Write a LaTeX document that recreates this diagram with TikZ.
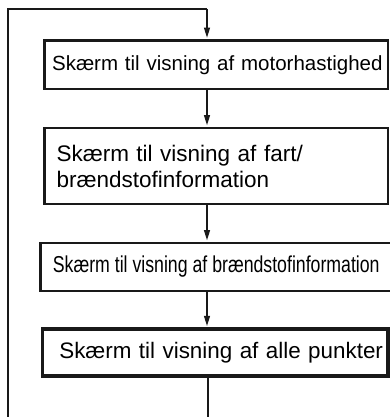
\documentclass[tikz,border=0pt]{standalone}
\usepackage{fontspec}
\setmainfont{Liberation Sans}
\newfontfamily\narrowsans[FakeStretch=0.77]{Liberation Sans}
\usetikzlibrary{arrows.meta, positioning, calc}

\begin{document}
\begin{tikzpicture}[
    x=1pt, y=-1pt,
    scr/.style={draw=black!90, line width=2.9pt, minimum width=343.5pt, inner xsep=12pt, inner ysep=0pt},
    arr/.style={-{Triangle[length=10pt,width=6pt]}, line width=1.1pt, black!90, shorten >=1.4pt},
    loop/.style={line width=1.8pt, black!90}
]
\useasboundingbox (0,0) rectangle (390,417);

\node[scr, minimum height=48.5pt, inner xsep=5.5pt, text width=332.5pt, align=right, font=\fontsize{20.5}{24}\selectfont] (m1) at (216.25,64.75) {Skærm til visning af motorhastighed};
\node[scr, minimum height=76pt, text width=319.5pt, align=left, font=\fontsize{22.5}{26}\selectfont] (m2) at (216.25,166) {Skærm til visning af fart/\\brændstofinformation};
\node[scr, minimum height=48pt, font=\narrowsans\fontsize{23}{26}\selectfont] (m3) at (216.25,267) {Skærm til visning af brændstofinformation};
\node[scr, line width=3.4pt, minimum width=345.5pt, minimum height=47pt, inner xsep=5pt, text width=335.5pt, align=right, font=\fontsize{22.4}{26}\selectfont] (m4) at (215.25,352.5) {Skærm til visning af alle punkter};

% loop back to the first screen
\coordinate (ax) at (207,0);
\coordinate (bot) at (208,417);
\coordinate (lb) at (8,417);
\coordinate (lt) at (8,9);

\draw[loop] (lb) -- (lt) -- (lt -| ax);
\draw[arr] (lt -| ax) -- (m1.north -| ax);
\draw[arr] (m1.south -| ax) -- (m2.north -| ax);
\draw[arr] (m2.south -| ax) -- (m3.north -| ax);
\draw[arr] (m3.south -| ax) -- (m4.north -| ax);
\draw[loop, line width=2.4pt] (m4.south -| bot) -- (bot);
\end{tikzpicture}
\end{document}
